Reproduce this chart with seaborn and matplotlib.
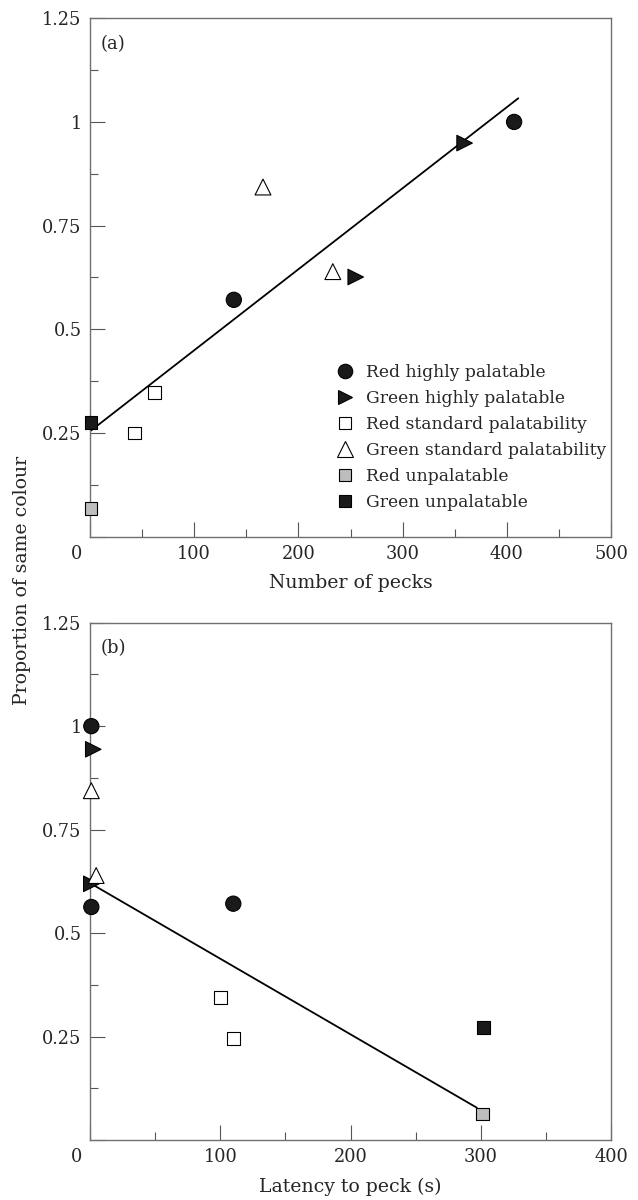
import numpy as np
import pandas as pd
import matplotlib
matplotlib.use("Agg")
import matplotlib.pyplot as plt
import matplotlib.transforms as mtransforms
from matplotlib.lines import Line2D
from matplotlib.ticker import MultipleLocator
import seaborn as sns

# groups and how they are drawn
groups = ["Red highly palatable", "Green highly palatable", "Red standard palatability",
          "Green standard palatability", "Red unpalatable", "Green unpalatable"]

# panel (a): number of pecks vs proportion of same colour
pecks = {
    "Red highly palatable": [407, 138],
    "Green highly palatable": [359.5, 255],
    "Red standard palatability": [62, 43],
    "Green standard palatability": [166, 233],
    "Red unpalatable": [1],
    "Green unpalatable": [1],
}
prop_a = {
    "Red highly palatable": [1.0, 0.571],
    "Green highly palatable": [0.949, 0.626],
    "Red standard palatability": [0.347, 0.25],
    "Green standard palatability": [0.843, 0.639],
    "Red unpalatable": [0.067],
    "Green unpalatable": [0.275],
}
fit_a_x = [1, 411]
fit_a_y = [0.256, 1.057]

# panel (b): latency to peck vs proportion of same colour
latency = {
    "Red highly palatable": [1, 1, 110],
    "Green highly palatable": [2.5, 1],
    "Red standard palatability": [100, 110],
    "Green standard palatability": [1, 4.7],
    "Red unpalatable": [301.5],
    "Green unpalatable": [302],
}
prop_b = {
    "Red highly palatable": [1.0, 0.563, 0.571],
    "Green highly palatable": [0.944, 0.619],
    "Red standard palatability": [0.345, 0.246],
    "Green standard palatability": [0.844, 0.639],
    "Red unpalatable": [0.063],
    "Green unpalatable": [0.272],
}
fit_b_x = [1, 297]
fit_b_y = [0.619, 0.078]

markers = dict(zip(groups, ["o", ">", "s", "^", "s", "s"]))
fills = dict(zip(groups, ["#1a1a1a", "#1a1a1a", "white", "white", "#bdbdbd", "#1a1a1a"]))
sizes = dict(zip(groups, [120, 125, 85, 130, 85, 85]))


def to_frame(xs, ys):
    rows = []
    for g in groups:
        for x, y in zip(xs[g], ys[g]):
            rows.append({"x": x, "y": y, "group": g})
    return pd.DataFrame(rows)


df_a = to_frame(pecks, prop_a)
df_b = to_frame(latency, prop_b)

sns.set_style("ticks")
plt.rcParams["font.family"] = ["DejaVu Serif"]
plt.rcParams["font.size"] = 12.5

fig = plt.figure(figsize=(6.38, 12), dpi=100)
ax_a = fig.add_axes([0.1411, 0.5528, 0.8166, 0.432])
ax_b = fig.add_axes([0.1411, 0.05, 0.8166, 0.4311])

panels = [
    (ax_a, df_a, fit_a_x, fit_a_y, 500, "Number of pecks", "(a)"),
    (ax_b, df_b, fit_b_x, fit_b_y, 400, "Latency to peck (s)", "(b)"),
]

for ax, df, fx, fy, xmax, xlabel, tag in panels:
    sns.lineplot(x=fx, y=fy, color="black", linewidth=1.3, ax=ax, zorder=2)
    sns.scatterplot(data=df, x="x", y="y", hue="group", style="group", size="group",
                    hue_order=groups, style_order=groups, size_order=groups,
                    palette=fills, markers=markers, sizes=sizes,
                    edgecolor="black", linewidth=0.8, legend=False,
                    clip_on=False, zorder=4, ax=ax)

    ax.set_xlim(0, xmax)
    ax.set_ylim(0, 1.25)
    ax.set_xticks(np.arange(0, xmax + 1, 100))
    ax.set_xticklabels([str(v) for v in range(0, xmax + 1, 100)])
    ax.set_yticks([0, 0.25, 0.5, 0.75, 1.0, 1.25])
    ax.set_yticklabels(["", "0.25", "0.5", "0.75", "1", "1.25"])
    ax.xaxis.set_minor_locator(MultipleLocator(50))
    ax.yaxis.set_minor_locator(MultipleLocator(0.125))
    ax.tick_params(which="major", direction="in", length=11, width=0.8,
                   color="#555555", labelsize=12.8, pad=6)
    ax.tick_params(which="minor", direction="in", length=5.5, width=0.8, color="#555555")
    ax.set_xlabel(xlabel, fontsize=13.6, labelpad=8)
    ax.set_ylabel("")
    for sp in ax.spines.values():
        sp.set_color("#707070")
        sp.set_linewidth(1.0)
    ax.text(0.02, 0.95, tag, transform=ax.transAxes, ha="left", va="center", fontsize=13)

    # the "0" sits a little left of the corner
    lbl = ax.xaxis.get_major_ticks()[0].label1
    lbl.set_transform(lbl.get_transform() +
                      mtransforms.ScaledTranslation(-10 / 72, 0, fig.dpi_scale_trans))

handles = [Line2D([], [], marker=markers[g], linestyle="none", markerfacecolor=fills[g],
                  markeredgecolor="black", markeredgewidth=0.8,
                  markersize=np.sqrt(sizes[g]) * 0.95) for g in groups]
ax_a.legend(handles, groups, loc="center left", bbox_to_anchor=(0.473, 0.191),
            frameon=False, borderpad=0, borderaxespad=0, handlelength=1.0,
            handletextpad=0.75, labelspacing=0.52, fontsize=12.3)

fig.text(0.034, 0.516, "Proportion of same colour", rotation=90,
         ha="center", va="center", fontsize=13.6)

fig.savefig("out.png", dpi=100)
